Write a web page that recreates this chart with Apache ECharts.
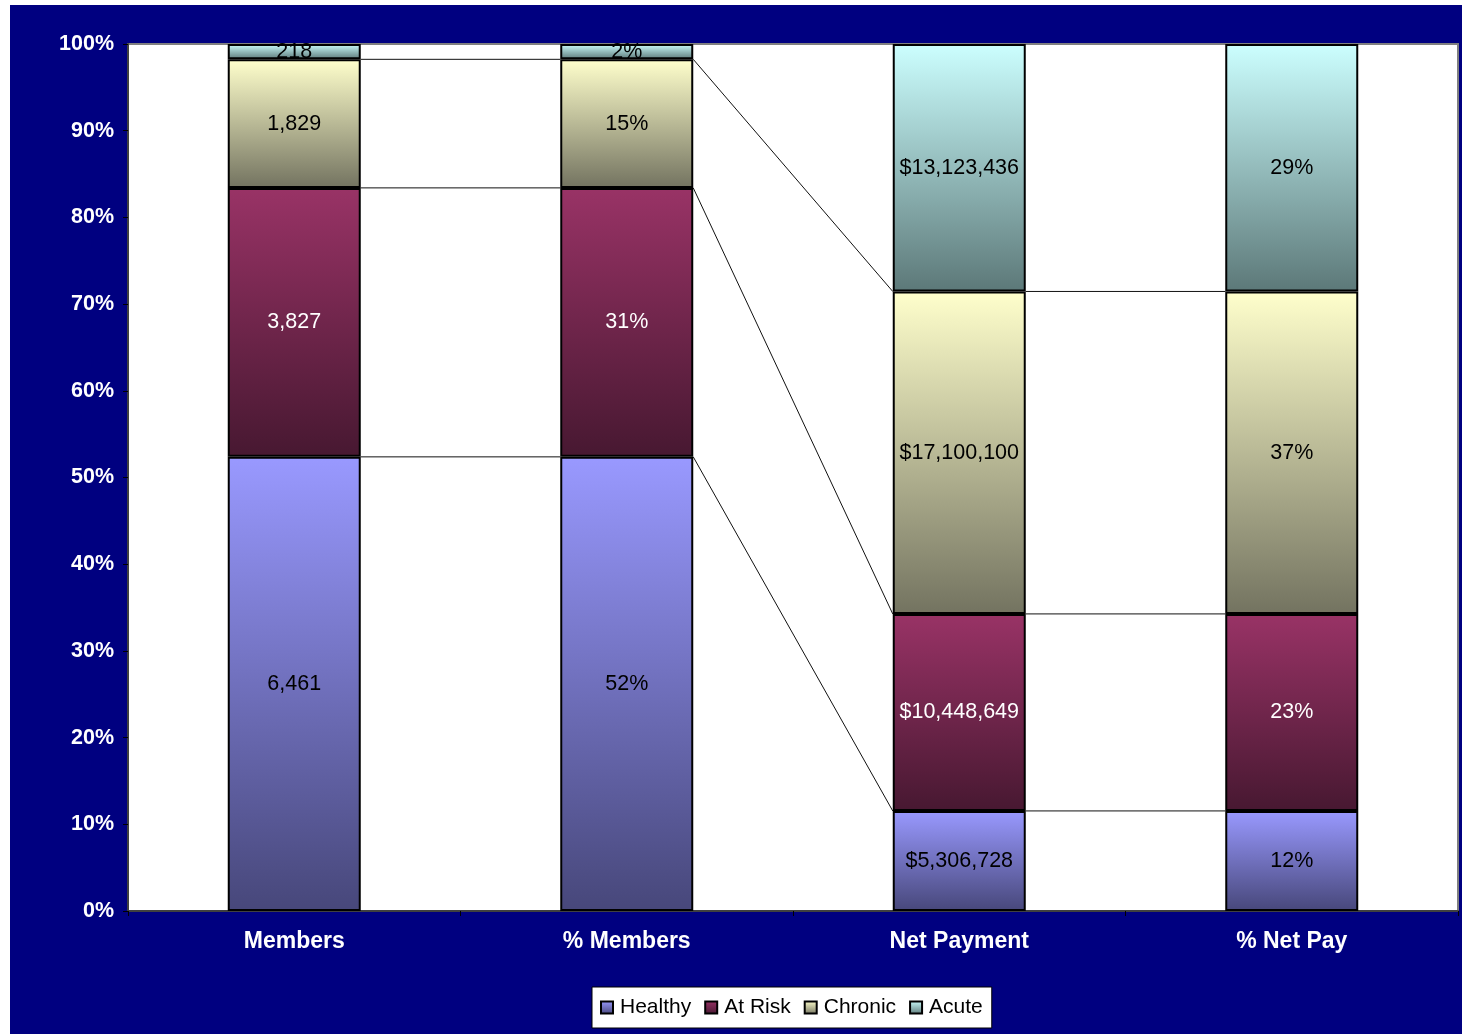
<!DOCTYPE html>
<html>
<head>
<meta charset="utf-8">
<script src="https://cdn.jsdelivr.net/npm/echarts@6/dist/echarts.min.js"></script>
<style>
  html, body { margin: 0; padding: 0; background: #ffffff; }
  #chart { position: absolute; left: 10px; top: 5px; width: 1452px; height: 1029px; }
</style>
</head>
<body>
<div id="chart"></div>
<script>
// ---- Data ----
var categories = ['Members', '% Members', 'Net Payment', '% Net Pay'];
var seriesNames = ['Healthy', 'At Risk', 'Chronic', 'Acute'];
var memberCounts = [6461, 3827, 1829, 218];
var memberPctLabels = ['52%', '31%', '15%', '2%'];
var netPayments = [5306728, 10448649, 17100100, 13123436];
var netPayPctLabels = ['12%', '23%', '37%', '29%'];
var yTickLabels = ['0%', '10%', '20%', '30%', '40%', '50%', '60%', '70%', '80%', '90%', '100%'];

// ---- Styles ----
var FONT = "'Liberation Sans', Arial, sans-serif";
var gradTop = ['#9999FF', '#993366', '#FFFFCC', '#CCFFFF'];
var gradBottom = ['#47477a', '#471831', '#737360', '#5c7878'];
var labelColors = ['#000000', '#ffffff', '#000000', '#000000'];

function sum(a) { return a.reduce(function (s, v) { return s + v; }, 0); }
var memberTotal = sum(memberCounts);
var netTotal = sum(netPayments);

// Shares (100% stacked) per category for each series
function shares(s) {
  var m = memberCounts[s] / memberTotal * 100;
  var n = netPayments[s] / netTotal * 100;
  return [m, m, n, n];
}
function labelFor(s, c) {
  if (c === 0) return memberCounts[s].toLocaleString('en-US');
  if (c === 1) return memberPctLabels[s];
  if (c === 2) return '$' + netPayments[s].toLocaleString('en-US');
  return netPayPctLabels[s];
}

var series = seriesNames.map(function (name, s) {
  return {
    name: name,
    type: 'bar',
    stack: 'total',
    barWidth: '40%',
    data: shares(s),
    itemStyle: {
      color: new echarts.graphic.LinearGradient(0, 0, 0, 1, [
        { offset: 0, color: gradTop[s] },
        { offset: 1, color: gradBottom[s] }
      ]),
      borderColor: '#000',
      borderWidth: 2
    },
    label: {
      show: true,
      position: 'inside',
      color: labelColors[s],
      fontFamily: FONT,
      fontSize: 21.5,
      formatter: function (p) { return labelFor(s, p.dataIndex); }
    },
    emphasis: { disabled: true }
  };
});

// connector (series) lines between adjacent bars at cumulative boundaries
var connData = [];
for (var c = 0; c < categories.length - 1; c++) {
  for (var k = 0; k < seriesNames.length - 1; k++) {
    var left = 0, right = 0;
    for (var j = 0; j <= k; j++) { left += series[j].data[c]; right += series[j].data[c + 1]; }
    connData.push([c, left, right]);
  }
}
series.push({
  type: 'custom',
  name: 'connectors',
  silent: true,
  z: 1,
  data: connData,
  renderItem: function (params, api) {
    var c = api.value(0);
    var band = api.size([1, 0])[0];
    var p1 = api.coord([c, api.value(1)]);
    var p2 = api.coord([c + 1, api.value(2)]);
    return {
      type: 'line',
      shape: { x1: p1[0] + band * 0.2, y1: p1[1], x2: p2[0] - band * 0.2, y2: p2[1] },
      style: { stroke: '#111', lineWidth: 1 }
    };
  }
});

var chart = echarts.init(document.getElementById('chart'));
chart.setOption({
  backgroundColor: '#000080',
  animation: false,
  grid: {
    left: 118, right: 4, top: 39, bottom: 123,
    show: true, backgroundColor: '#ffffff', borderColor: '#808080', borderWidth: 2
  },
  legend: {
    data: seriesNames,
    left: 582,
    bottom: 6,
    backgroundColor: '#ffffff',
    borderColor: '#000000',
    borderWidth: 1,
    padding: [10, 9, 10, 8],
    itemGap: 13,
    itemWidth: 12,
    itemHeight: 12,
    icon: 'rect',
    textStyle: { fontFamily: FONT, fontSize: 21, color: '#000', padding: [0, 0, 0, 2] },
    selectedMode: false
  },
  xAxis: {
    type: 'category',
    data: categories,
    axisLine: { lineStyle: { color: '#404040', width: 2 } },
    axisTick: { show: true, length: 5, lineStyle: { color: '#000' } },
    axisLabel: {
      color: '#ffffff', fontFamily: FONT, fontWeight: 'bold', fontSize: 23, margin: 19
    },
    splitLine: { show: false }
  },
  yAxis: {
    type: 'value',
    min: 0, max: 100, interval: 10,
    axisLine: { show: true, lineStyle: { color: '#404040', width: 2 } },
    axisTick: { show: true, length: 5, lineStyle: { color: '#000' } },
    axisLabel: {
      color: '#ffffff', fontFamily: FONT, fontWeight: 'bold', fontSize: 21.5, margin: 14,
      formatter: function (v) { return yTickLabels[Math.round(v / 10)]; }
    },
    splitLine: { show: false }
  },
  series: series
});
</script>
</body>
</html>
